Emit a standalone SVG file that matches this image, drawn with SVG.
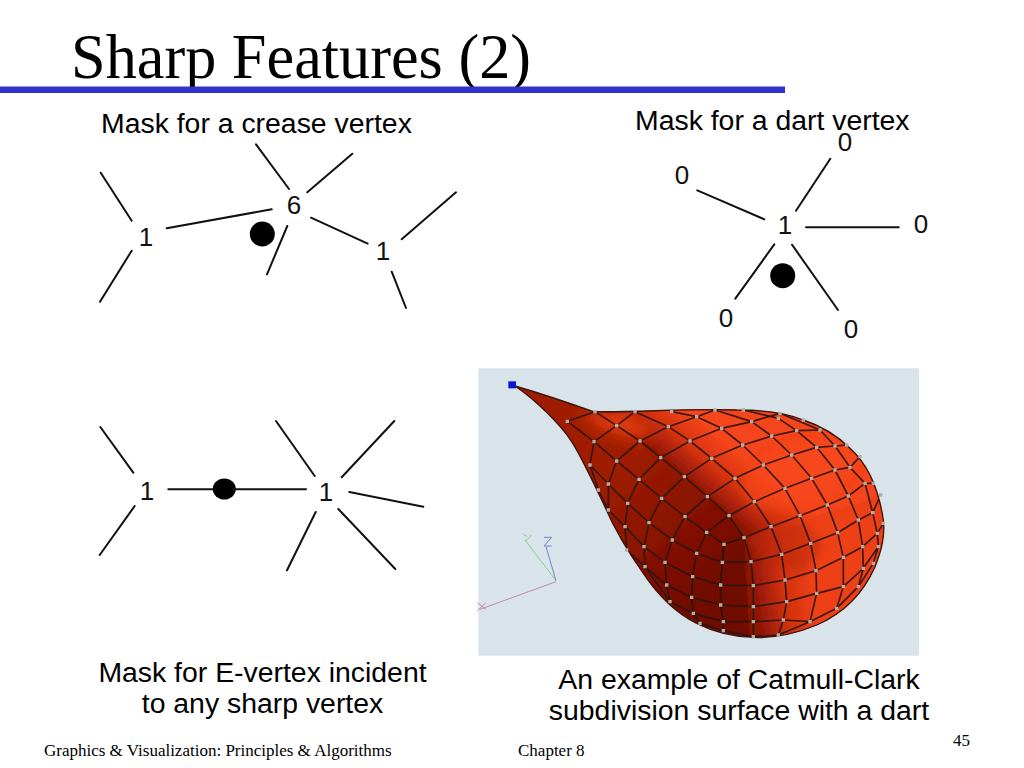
<svg xmlns="http://www.w3.org/2000/svg" width="1024" height="768" viewBox="0 0 1024 768">
<style>
.t{font-family:"Liberation Sans",Arial,sans-serif;font-size:28.400px;fill:#000}
.f{font-family:"Liberation Serif","Times New Roman",serif;font-size:17px;fill:#000}
.d{font-family:"Liberation Sans",Arial,sans-serif;font-size:26px;fill:#111;text-anchor:middle}
.e{stroke:#111;stroke-width:2;fill:none;stroke-linecap:round}
.m{stroke:#2a1410;stroke-width:5;fill:none;stroke-linejoin:round;opacity:.9}
</style>
<defs>
<clipPath id="drop"><path d="M135 78C210 100 300 130 370 155C500 158 640 145 800 150C880 150 950 160 1000 180C1060 200 1110 235 1140 265C1190 310 1225 380 1240 480C1245 530 1235 570 1215 620C1180 700 1120 760 1040 795C980 820 910 835 850 832C780 830 720 810 680 790C610 755 560 700 520 640C470 570 430 500 400 430C370 370 340 300 305 245C270 190 190 115 135 78Z"/></clipPath>
<linearGradient id="top" gradientUnits="userSpaceOnUse" x1="643" y1="350" x2="745" y2="232"><stop offset="0" stop-color="#8e1605"/><stop offset=".5" stop-color="#d4320e"/><stop offset="1" stop-color="#f4441a"/></linearGradient>
<linearGradient id="right" gradientUnits="userSpaceOnUse" x1="830" y1="600" x2="1010" y2="570"><stop offset="0" stop-color="#8a1405"/><stop offset=".5" stop-color="#d0300d"/><stop offset="1" stop-color="#ee4016"/></linearGradient>
<linearGradient id="left" gradientUnits="userSpaceOnUse" x1="450" y1="300" x2="760" y2="650"><stop offset="0" stop-color="#a01e06"/><stop offset=".5" stop-color="#8a1303"/><stop offset="1" stop-color="#700a00"/></linearGradient>
<filter id="soft" x="-5%" y="-5%" width="110%" height="110%"><feGaussianBlur stdDeviation="1.400"/></filter>
<filter id="soft2" x="-30%" y="-30%" width="160%" height="160%"><feGaussianBlur stdDeviation="12"/></filter>
<filter id="soft3" x="-40%" y="-40%" width="180%" height="180%"><feGaussianBlur stdDeviation="20"/></filter>
</defs>

<rect width="1024" height="768" fill="#fff"/>

<g id="title">
<text x="71" y="78" font-family="'Liberation Serif','Times New Roman',serif" font-size="64" fill="#000" textLength="460" lengthAdjust="spacingAndGlyphs">Sharp Features (2)</text>
<rect x="0" y="86.500" width="785" height="6.500" fill="#3333cc"/>
</g>

<g id="labels">
<text class="t" x="101" y="133">Mask for a crease vertex</text>
<text class="t" x="635" y="130">Mask for a dart vertex</text>
<text class="t" x="262.500" y="682" text-anchor="middle">Mask for E-vertex incident</text>
<text class="t" x="262.500" y="713" text-anchor="middle">to any sharp vertex</text>
<text class="t" x="739" y="689" text-anchor="middle">An example of Catmull-Clark</text>
<text class="t" x="739" y="720" text-anchor="middle">subdivision surface with a dart</text>
</g>

<g id="connectors">
<path class="e" d="M100.700 172.700L131.700 220.700M131.700 250.700L100 301.700M166.700 228.300L271.700 209.300M256 144.300L289 189M307.300 192.300L352.300 153.700M287.300 226L267 274.300M311 217.700L367.700 243.700M401.700 239.300L456 192.300M391.700 271.700L406 308"/>
<path class="e" d="M697.300 190.300L764.300 219.300M830.300 158.700L796 210.700M806 227.300L898.700 227.300M774.300 244.300L735.300 298.700M792 244.700L838 310"/>
<path class="e" d="M100.300 427L133.300 472.700M134.700 506L99.700 555M168.300 489.300L306 489.300M276 421L314.700 476M394.300 421L341.700 477.300M349.300 492L423.300 506.700M338.300 509L395.300 569M315.700 512L287 570.300"/>
</g>

<g id="crease-mask">
<ellipse cx="262.300" cy="234" rx="12.500" ry="12.500" fill="#000"/>
<text class="d" x="146" y="246">1</text>
<text class="d" x="294" y="214">6</text>
<text class="d" x="383" y="260">1</text>
</g>

<g id="dart-mask">
<ellipse cx="782.700" cy="275.700" rx="12.500" ry="12.500" fill="#000"/>
<text class="d" x="682" y="184">0</text>
<text class="d" x="845" y="151">0</text>
<text class="d" x="785" y="234">1</text>
<text class="d" x="921" y="233">0</text>
<text class="d" x="726" y="327">0</text>
<text class="d" x="851" y="338">0</text>
</g>

<g id="e-mask">
<ellipse cx="224.300" cy="489" rx="11.500" ry="10.500" fill="#000"/>
<text class="d" x="147" y="500">1</text>
<text class="d" x="326" y="501">1</text>
</g>

<g id="render" transform="translate(470 360) scale(.33333)">
<rect x="25" y="25" width="1322" height="862" fill="#d8e3ea"/>
<g id="axes" fill="none" stroke-width="3">
<path d="M258 662L165 540M165 545L185 525M172 530L158 522" stroke="#8fd08a"/>
<path d="M258 662L228 560M222 532H245L222 558H245" stroke="#6a86c8"/>
<path d="M258 665L30 748M22 728L48 748M48 728L22 752" stroke="#c08aa8"/>
</g>
<g filter="url(#soft)">
<g clip-path="url(#drop)">
<rect x="100" y="50" width="1200" height="820" fill="url(#left)"/>
<path d="M470 220L640 350L712 410L777 467L822 533L1260 533L1260 100L375 100L375 155Z" fill="url(#top)"/>
<path d="M822 533L1260 400L1300 850L840 850Z" fill="url(#right)"/>
<path d="M330 160L470 150L560 230L480 235L400 210Z" fill="#e23a10" filter="url(#soft3)"/>
<ellipse cx="990" cy="340" rx="180" ry="90" transform="rotate(-20 990 340)" fill="#f84a1c" opacity=".6" filter="url(#soft2)"/>
<path d="M822 533L903 500L1000 480L1060 560L1000 640L900 610Z" fill="#b62508" opacity=".5" filter="url(#soft2)"/>
<g id="mesh">
<polyline class="m" points="375,155 440,197 510,243 572,293 643,350 712,410 777,467 822,533 843,605 850,677 850,740 850,785 850,830"/>
<polyline class="m" points="495,155 595,200 660,243 725,295 795,355 853,425 903,500 935,583 945,660 950,725 940,780 925,825"/>
<polyline class="m" points="605,155 680,170 755,205 818,255 880,315 945,385 990,467 1022,550 1038,632 1040,700 1020,785"/>
<polyline class="m" points="735,150 845,185 905,228 965,285 1025,355 1072,435 1103,518 1120,592 1120,680 1100,745"/>
<polyline class="m" points="820,150 925,175 980,212 1040,262 1095,330 1135,408 1165,480 1178,560 1180,625 1165,680"/>
<polyline class="m" points="930,160 1050,210 1095,258 1140,322 1185,370 1208,458 1222,520 1225,560 1210,610"/>
<polyline class="m" points="292,184 372,245 440,303 507,358 575,415 645,470 710,517 762,553 757,607"/>
<polyline class="m" points="360,315 415,372 473,430 537,488 607,540 680,580 757,607 843,605"/>
<polyline class="m" points="385,390 415,450 465,500 522,560 585,607 668,650 752,675 850,677"/>
<polyline class="m" points="470,570 525,620 590,675 665,712 752,735 850,740"/>
<polyline class="m" points="525,620 600,725 670,760 760,785 850,785"/>
<polyline class="m" points="690,790 760,812 850,830"/>
<polyline class="m" points="292,184 375,155"/>
<polyline class="m" points="372,245 440,197 495,155"/>
<polyline class="m" points="360,315 372,245"/>
<polyline class="m" points="385,390 360,315"/>
<polyline class="m" points="415,450 415,372 440,303 510,243 595,200 680,170 735,150"/>
<polyline class="m" points="470,570 465,500 473,430 507,358 572,293 660,243 755,205 845,185 930,160"/>
<polyline class="m" points="525,620 522,560 537,488 575,415 643,350 725,295 818,255 905,228 980,212 1050,210"/>
<polyline class="m" points="600,725 590,675 585,607 607,540 645,470 712,410 795,355 880,315 965,285 1040,262 1095,258 1130,255"/>
<polyline class="m" points="690,790 670,760 665,712 668,650 680,580 710,517 777,467 853,425 945,385 1025,355 1095,330 1140,322 1170,290"/>
<polyline class="m" points="760,812 760,785 752,735 752,675 757,607 762,553 822,533 903,500 990,467 1072,435 1135,408 1185,370 1210,370"/>
<polyline class="m" points="843,605 935,583 1022,550 1103,518 1165,480 1208,458 1232,405"/>
<polyline class="m" points="850,677 945,660 1038,632 1120,592 1178,560 1222,520 1240,490"/>
<polyline class="m" points="850,740 950,725 1040,700 1120,680 1180,625 1225,560"/>
<polyline class="m" points="850,785 940,780 1020,785 1100,745 1165,680 1210,610"/>
<polyline class="m" points="850,830 925,825 1020,785"/>
</g>
</g>
<path id="outline" fill="none" stroke="#3a120a" stroke-width="4" d="M135 78C210 100 300 130 370 155C500 158 640 145 800 150C880 150 950 160 1000 180C1060 200 1110 235 1140 265C1190 310 1225 380 1240 480C1245 530 1235 570 1215 620C1180 700 1120 760 1040 795C980 820 910 835 850 832C780 830 720 810 680 790C610 755 560 700 520 640C470 570 430 500 400 430C370 370 340 300 305 245C270 190 190 115 135 78Z"/>
<path id="vertices" fill="none" stroke="#b5aca6" stroke-width="10" stroke-linecap="square" d="M375 155h.1M440 197h.1M510 243h.1M572 293h.1M643 350h.1M712 410h.1M777 467h.1M495 155h.1M595 200h.1M660 243h.1M725 295h.1M795 355h.1M853 425h.1M935 583h.1M945 660h.1M950 725h.1M940 780h.1M925 825h.1M605 155h.1M680 170h.1M755 205h.1M818 255h.1M880 315h.1M945 385h.1M990 467h.1M1022 550h.1M1038 632h.1M1040 700h.1M1020 785h.1M735 150h.1M845 185h.1M905 228h.1M965 285h.1M1025 355h.1M1072 435h.1M1103 518h.1M1120 592h.1M1120 680h.1M820 150h.1M925 175h.1M980 212h.1M1040 262h.1M1095 330h.1M1135 408h.1M1165 480h.1M1178 560h.1M1180 625h.1M930 160h.1M1050 210h.1M1095 258h.1M1140 322h.1M1185 370h.1M1208 458h.1M1222 520h.1M292 184h.1M372 245h.1M440 303h.1M507 358h.1M575 415h.1M645 470h.1M710 517h.1M762 553h.1M360 315h.1M415 372h.1M473 430h.1M537 488h.1M607 540h.1M680 580h.1M757 607h.1M843 605h.1M385 390h.1M415 450h.1M465 500h.1M522 560h.1M585 607h.1M668 650h.1M752 675h.1M850 677h.1M470 570h.1M525 620h.1M590 675h.1M665 712h.1M752 735h.1M850 740h.1M600 725h.1M670 760h.1M760 785h.1M850 785h.1M690 790h.1M760 812h.1M850 830h.1M903 500h.1M822 533h.1M1130 255h.1M1170 290h.1M1210 370h.1M1232 405h.1M1240 490h.1M1225 560h.1M1210 610h.1M1165 680h.1M1100 745h.1M1000 180h.1"/>
</g>
<rect x="115" y="64" width="23" height="21" fill="#0a14d8"/>
</g>

<g id="footer">
<text class="f" x="44" y="756">Graphics &amp; Visualization: Principles &amp; Algorithms</text>
<text class="f" x="518" y="756">Chapter 8</text>
<text class="f" x="953" y="746">45</text>
</g>
</svg>
